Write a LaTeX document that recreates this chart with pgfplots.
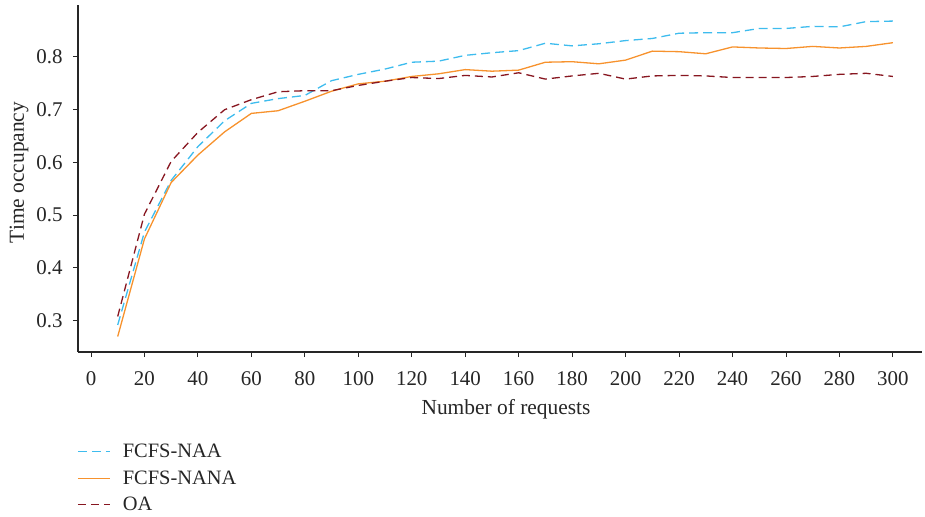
\documentclass[border=0pt]{standalone}
\usepackage{pgfplots}
\pgfplotsset{compat=1.18}
\usepackage{fontspec}
\setmainfont{Liberation Serif}
\definecolor{cblue}{RGB}{62,188,238}
\definecolor{corange}{RGB}{247,146,45}
\definecolor{cred}{RGB}{135,22,32}
\begin{document}
\begin{tikzpicture}
\useasboundingbox (-78bp,-165bp) rectangle (847bp,352bp);
\begin{axis}[
  at={(0,0)}, anchor=south west,
  scale only axis, width=844bp, height=347bp,
  xmin=-4.86, xmax=310.9, ymin=0.2406, ymax=0.8985,
  axis lines=left, axis line style={-, line width=1.1bp, black!85},
  tick align=outside, major tick length=5bp,
  tick style={line width=0.9bp, black!85},
  xtick={0,20,...,300}, ytick={0.3,0.4,...,0.8},
  /pgf/number format/assume math mode=true,
  /pgf/number format/fixed, /pgf/number format/precision=1,
  yticklabel style={/pgf/number format/fixed zerofill, xshift=-7bp},
  xticklabel style={yshift=-11bp},
  every tick label/.append style={font=\fontsize{21}{24}\selectfont, text=black!85},
  xlabel={Number of requests}, ylabel={Time occupancy},
  label style={font=\fontsize{21.5}{25}\selectfont, text=black!85},
  xlabel style={at={(axis description cs:0.5,0)}, xshift=6bp, yshift=-57bp, anchor=center},
  ylabel style={at={(axis description cs:0,0.5)}, yshift=59bp, xshift=6bp, anchor=center},
  legend style={at={(axis description cs:0,0)}, anchor=north west, xshift=-4bp, yshift=-89bp,
    draw=none, fill=none, font=\fontsize{20.5}{24}\selectfont, text=black!85,
    row sep=9.5bp, nodes={inner sep=1bp}},
  legend cell align=left,
  legend image code/.code={\draw[#1] (0bp,0bp) -- (32bp,0bp); \path[draw=none,fill=none] (0bp,0bp) -- (44bp,0bp);},
]
\addplot[cblue, line width=1.3bp, dash pattern=on 9bp off 5bp] coordinates {
(10,0.292) (20,0.468) (30,0.566) (40,0.630) (50,0.679) (60,0.712) (70,0.721) (80,0.727) (90,0.755) (100,0.767)
(110,0.777) (120,0.790) (130,0.792) (140,0.803) (150,0.808) (160,0.812) (170,0.826) (180,0.821) (190,0.825) (200,0.831)
(210,0.835) (220,0.845) (230,0.846) (240,0.846) (250,0.854) (260,0.854) (270,0.858) (280,0.857) (290,0.867) (300,0.868)
};
\addlegendentry{FCFS-NAA}
\addplot[corange, line width=1.3bp] coordinates {
(10,0.270) (20,0.455) (30,0.562) (40,0.614) (50,0.658) (60,0.693) (70,0.698) (80,0.716) (90,0.735) (100,0.749)
(110,0.754) (120,0.763) (130,0.768) (140,0.776) (150,0.773) (160,0.775) (170,0.790) (180,0.791) (190,0.787) (200,0.794)
(210,0.811) (220,0.810) (230,0.806) (240,0.819) (250,0.817) (260,0.816) (270,0.820) (280,0.817) (290,0.820) (300,0.827)
};
\addlegendentry{FCFS-NANA}
\addplot[cred, line width=1.3bp, dash pattern=on 8bp off 5bp] coordinates {
(10,0.308) (20,0.502) (30,0.602) (40,0.657) (50,0.700) (60,0.719) (70,0.734) (80,0.736) (90,0.736) (100,0.746)
(110,0.754) (120,0.761) (130,0.759) (140,0.765) (150,0.762) (160,0.770) (170,0.758) (180,0.764) (190,0.769) (200,0.758)
(210,0.764) (220,0.765) (230,0.764) (240,0.761) (250,0.761) (260,0.761) (270,0.763) (280,0.767) (290,0.769) (300,0.763)
};
\addlegendentry{OA}
\end{axis}
\end{tikzpicture}
\end{document}
